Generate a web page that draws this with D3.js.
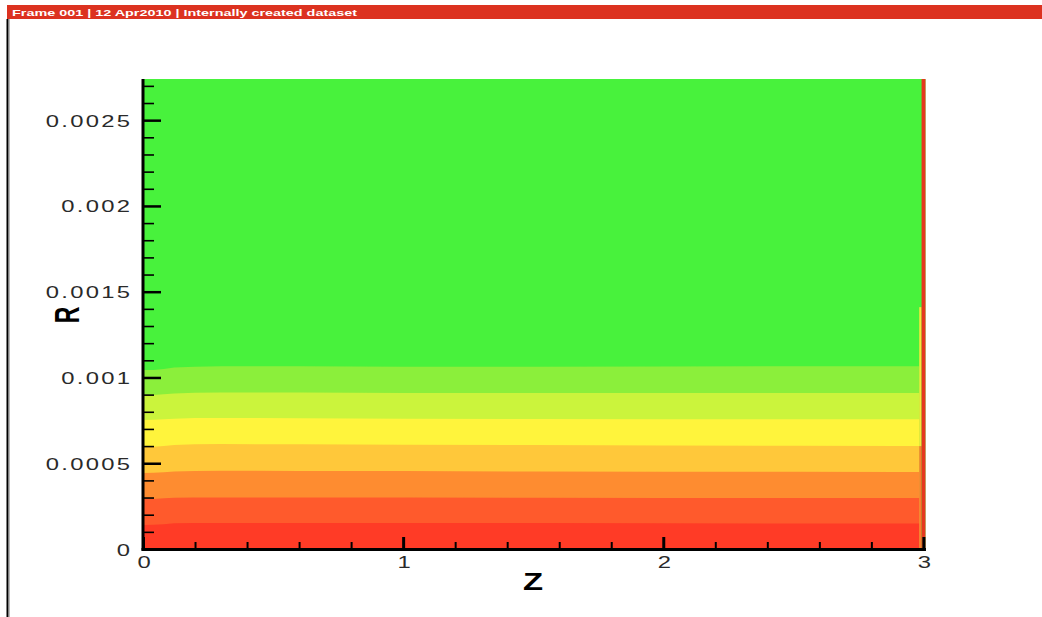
<!DOCTYPE html>
<html><head><meta charset="utf-8">
<script src="https://cdn.jsdelivr.net/npm/d3@7"></script>
<style>html,body{margin:0;padding:0;background:#fff;}svg{display:block;}</style>
</head><body>
<script>
// ---- data ----
const headerText = "Frame 001 | 12 Apr2010 | Internally created dataset";
const zPts = [0, 0.04, 0.08, 0.12, 0.2, 0.3, 0.6, 1.0, 1.5, 2.0, 2.5, 2.9, 2.984];
// contour boundaries (R) along Z, from lowest to highest level
const b1 = [0.000140,0.000141,0.000145,0.000150,0.000152,0.000152,0.000152,0.000151,0.000151,0.000150,0.000149,0.000149,0.000149];
const b2 = [0.000291,0.000292,0.000296,0.000299,0.000300,0.000300,0.000300,0.000300,0.000299,0.000298,0.000297,0.000297,0.000297];
const b3 = [0.000443,0.000444,0.000448,0.000452,0.000455,0.000456,0.000455,0.000454,0.000452,0.000451,0.000450,0.000449,0.000449];
const b4 = [0.000594,0.000596,0.000600,0.000606,0.000610,0.000612,0.000610,0.000608,0.000606,0.000604,0.000602,0.000600,0.000600];
const b5 = [0.000752,0.000753,0.000756,0.000760,0.000763,0.000764,0.000762,0.000760,0.000758,0.000757,0.000757,0.000757,0.000757];
const b6 = [0.000897,0.000898,0.000902,0.000907,0.000911,0.000913,0.000912,0.000910,0.000909,0.000909,0.000909,0.000909,0.000909];
const b7 = [0.001043,0.001044,0.001050,0.001058,0.001063,0.001066,0.001065,0.001062,0.001062,0.001064,0.001066,0.001066,0.001066];
const bandColors = ["#FF3B26","#FF5A2C","#FE8C30","#FFC83A","#FFF43C","#CBF43C","#8BEF3B","#48F23C"];
// thin columns at the right end (z0, z1, r0, r1)
const stripZ0 = [2.984, 2.984, 2.993];
const stripZ1 = [2.993, 2.993, 3.008];
const stripR0 = [0, 0.0006, 0];
const stripR1 = [0.0006, 0.00141, 0.00274];
const stripColors = ["#FF7A30", "#F8E63C", "#E5381F"];
const zMax = 3.008, rMax = 0.00274;
const xMajor = [0, 1, 2, 3];
const xLabels = ["0", "1", "2", "3"];
const xMinor = [0.2,0.4,0.6,0.8,1.2,1.4,1.6,1.8,2.2,2.4,2.6,2.8];
const yMajor = [0, 0.0005, 0.001, 0.0015, 0.002, 0.0025];
const yLabels = ["0", "0.0005", "0.001", "0.0015", "0.002", "0.0025"];
const yMinor = [0.0001,0.0002,0.0003,0.0004,0.0006,0.0007,0.0008,0.0009,0.0011,0.0012,0.0013,0.0014,0.0016,0.0017,0.0018,0.0019,0.0021,0.0022,0.0023,0.0024,0.0026,0.0027];

// ---- drawing ----
const W = 1042, H = 617;
const svg = d3.select("body").append("svg").attr("width", W).attr("height", H);
const x = d3.scaleLinear().domain([0, 3.01]).range([143, 926]);
const y = d3.scaleLinear().domain([0, rMax]).range([549, 79]);

// header
svg.append("rect").attr("x", 7).attr("y", 5).attr("width", W - 7).attr("height", 14).attr("fill", "#DC3220");
svg.append("text").attr("x", 12).attr("y", 15.6).attr("textLength", 345).attr("lengthAdjust", "spacingAndGlyphs")
  .attr("font-family", "Liberation Sans, Arial, sans-serif").attr("font-weight", "bold").attr("font-size", 9.5)
  .attr("fill", "#fff").text(headerText);
// frame left line
svg.append("line").attr("x1", 7.5).attr("x2", 7.5).attr("y1", 19).attr("y2", H).attr("stroke", "#000").attr("stroke-width", 2);
svg.append("line").attr("x1", 9.5).attr("x2", 9.5).attr("y1", 19).attr("y2", H).attr("stroke", "#bbb").attr("stroke-width", 1);

// contour bands
const g = svg.append("g");
g.append("rect").attr("x", x(0)).attr("y", y(rMax)).attr("width", x(zMax) - x(0)).attr("height", y(0) - y(rMax)).attr("fill", bandColors[7]);
const bounds = [b7, b6, b5, b4, b3, b2, b1];
const fills = [bandColors[6], bandColors[5], bandColors[4], bandColors[3], bandColors[2], bandColors[1], bandColors[0]];
bounds.forEach((b, i) => {
  const area = d3.area().x((d, j) => x(zPts[j])).y0(y(0)).y1(d => y(d));
  g.append("path").datum(b).attr("d", area).attr("fill", fills[i]);
});
stripZ0.forEach((z0, i) => {
  g.append("rect").attr("x", x(z0)).attr("width", x(stripZ1[i]) - x(z0))
    .attr("y", y(stripR1[i])).attr("height", y(stripR0[i]) - y(stripR1[i])).attr("fill", stripColors[i]);
});

// axes ticks
const ax = svg.append("g");
function ticksY(vals, len, sw) {
  const a = ax.append("g").attr("transform", `translate(${x(0)},0)`)
    .call(d3.axisRight(y).tickValues(vals).tickSize(len).tickFormat(""));
  a.select(".domain").remove();
  a.selectAll("line").attr("stroke", "#000").attr("stroke-width", sw);
}
function ticksX(vals, len, sw) {
  const a = ax.append("g").attr("transform", `translate(0,${y(0)})`)
    .call(d3.axisTop(x).tickValues(vals).tickSize(len).tickFormat(""));
  a.select(".domain").remove();
  a.selectAll("line").attr("stroke", "#000").attr("stroke-width", sw);
}
ticksY(yMajor, 18, 2.5);
ticksY(yMinor, 11, 1.6);
ticksX(xMajor, 12, 3);
ticksX(xMinor, 7, 2);
// axis lines
ax.append("line").attr("x1", x(0)).attr("x2", x(0)).attr("y1", y(rMax)).attr("y2", y(0) + 1.5).attr("stroke", "#000").attr("stroke-width", 3);
ax.append("line").attr("x1", x(0) - 1.5).attr("x2", x(zMax) + 0.5).attr("y1", y(0) + 0.5).attr("y2", y(0) + 0.5).attr("stroke", "#000").attr("stroke-width", 3);

// labels (horizontally stretched glyphs)
const SX = 1.4, LS = 1.65;
function label(t, px, py, anchor) {
  const shift = anchor === "end" ? LS * SX : anchor === "middle" ? LS * SX / 2 : 0;
  svg.append("g").attr("transform", `translate(${px + shift},${py}) scale(${SX},1)`)
    .append("text").attr("text-anchor", anchor).attr("letter-spacing", LS)
    .attr("font-family", "Liberation Sans, Arial, sans-serif").attr("font-size", 17).attr("fill", "#2a2a2a").text(t);
}
yMajor.forEach((v, i) => label(yLabels[i], 130, y(v) + 6.5, "end"));
xMajor.forEach((v, i) => label(xLabels[i], x(v) + 1, 568, "middle"));

// axis titles
svg.append("g").attr("transform", `translate(533,590) scale(1.43,1)`)
  .append("text").attr("text-anchor", "middle").attr("font-family", "Liberation Sans, Arial, sans-serif")
  .attr("font-weight", "bold").attr("font-size", 23).attr("fill", "#000").text("Z");
svg.append("g").attr("transform", `translate(67,315) scale(1.5,1) rotate(-90)`)
  .append("text").attr("text-anchor", "middle").attr("dy", "0.36em").attr("font-family", "Liberation Sans, Arial, sans-serif")
  .attr("font-weight", "bold").attr("font-size", 23).attr("fill", "#000").text("R");
</script>
</body></html>
